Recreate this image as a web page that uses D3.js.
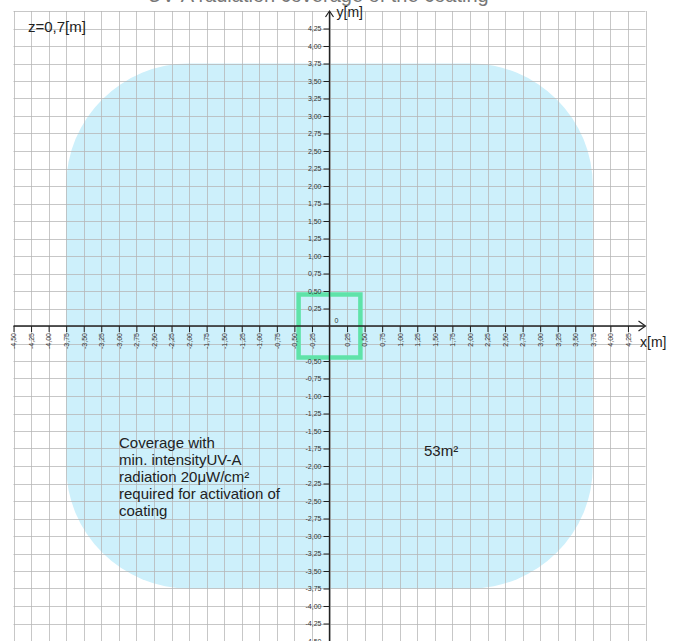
<!DOCTYPE html>
<html>
<head>
<meta charset="utf-8">
<script src="https://cdn.jsdelivr.net/npm/d3@7"></script>
<style>
  body { margin: 0; background: #fff; }
  svg { display: block; font-family: "Liberation Sans", Arial, sans-serif; }
</style>
</head>
<body>
<svg id="chart"></svg>
<script>
const width = 676;
const height = 641;

// datos
const titleText = "UV-A radiation coverage of the coating";
const heightLabel = "z=0,7[m]";
const areaLabel = "53m\u00b2";
const noteLines = ["Coverage with", "min. intensityUV-A", "radiation 20\u03bcW/cm\u00b2", "required for activation of", "coating"];
const coverage = { x0: -3.75, x1: 3.75, y0: -3.75, y1: 3.75, r: 1.75 };
const lampHalf = 0.44;
const gridValues = [-4.5, -4.25, -4, -3.75, -3.5, -3.25, -3, -2.75, -2.5, -2.25, -2, -1.75, -1.5, -1.25, -1, -0.75, -0.5, -0.25, 0,
  0.25, 0.5, 0.75, 1, 1.25, 1.5, 1.75, 2, 2.25, 2.5, 2.75, 3, 3.25, 3.5, 3.75, 4, 4.25, 4.5];
const xTickValues = [-4.5, -4.25, -4, -3.75, -3.5, -3.25, -3, -2.75, -2.5, -2.25, -2, -1.75, -1.5, -1.25, -1, -0.75, -0.5, -0.25,
  0.25, 0.5, 0.75, 1, 1.25, 1.5, 1.75, 2, 2.25, 2.5, 2.75, 3, 3.25, 3.5, 3.75, 4, 4.25];
const yTickValues = [4.25, 4, 3.75, 3.5, 3.25, 3, 2.75, 2.5, 2.25, 2, 1.75, 1.5, 1.25, 1, 0.75, 0.5, 0.25,
  -0.5, -0.75, -1, -1.25, -1.5, -1.75, -2, -2.25, -2.5, -2.75, -3, -3.25, -3.5, -3.75, -4, -4.25, -4.5];

const svg = d3.select("#chart").attr("width", width).attr("height", height);

const x = d3.scaleLinear().domain([-4.5, 4.5]).range([13.5, 645.5]);
const y = d3.scaleLinear().domain([4.5, -4.5]).range([11, 641]);

const fmt = d => d3.format(".2f")(d).replace(".", ",").replace("\u2212", "-");

// zona de cobertura
svg.append("rect")
  .attr("x", x(coverage.x0))
  .attr("y", y(coverage.y1))
  .attr("width", x(coverage.x1) - x(coverage.x0))
  .attr("height", y(coverage.y0) - y(coverage.y1))
  .attr("rx", x(coverage.r) - x(0))
  .attr("ry", y(0) - y(coverage.r))
  .attr("fill", "#cdf0fb");

// rejilla
const grid = svg.append("g").attr("stroke", "#b4b4b4").attr("stroke-opacity", 0.75).attr("stroke-width", 1);
grid.selectAll("line.v").data(gridValues).join("line")
  .attr("class", "v")
  .attr("x1", d => Math.round(x(d)) + 0.5).attr("x2", d => Math.round(x(d)) + 0.5)
  .attr("y1", y(4.5)).attr("y2", y(-4.5));
grid.selectAll("line.h").data(gridValues).join("line")
  .attr("class", "h")
  .attr("y1", d => Math.round(y(d)) + 0.5).attr("y2", d => Math.round(y(d)) + 0.5)
  .attr("x1", x(-4.5)).attr("x2", x(4.5));

// titulo (cortado arriba)
svg.append("text")
  .attr("x", 318).attr("y", 2)
  .attr("text-anchor", "middle")
  .attr("font-size", 20)
  .attr("fill", "#777")
  .text(titleText);

// lampara
svg.append("rect")
  .attr("x", x(-lampHalf)).attr("y", y(lampHalf + 0.01))
  .attr("width", x(lampHalf) - x(-lampHalf))
  .attr("height", y(-lampHalf - 0.01) - y(lampHalf + 0.01))
  .attr("fill", "none")
  .attr("stroke", "#5fe3a9")
  .attr("stroke-width", 4.5);

// eje x
const xAxis = d3.axisBottom(x).tickValues(xTickValues).tickSize(6).tickSizeOuter(0).tickFormat(fmt);
const gx = svg.append("g").attr("transform", `translate(0,${y(0)})`).call(xAxis);
gx.select(".domain").remove();
gx.selectAll(".tick line").attr("stroke", "#222");
gx.selectAll(".tick text")
  .attr("transform", "rotate(-90)")
  .attr("x", -7).attr("y", 0).attr("dy", "0.33em")
  .attr("text-anchor", "end")
  .attr("font-size", 7)
  .attr("font-family", "Liberation Sans, Arial, sans-serif")
  .attr("fill", "#333");

// eje y
const yAxis = d3.axisLeft(y).tickValues(yTickValues).tickSize(6).tickSizeOuter(0).tickFormat(fmt);
const gy = svg.append("g").attr("transform", `translate(${x(0)},0)`).call(yAxis);
gy.select(".domain").remove();
gy.selectAll(".tick line").attr("stroke", "#222");
gy.selectAll(".tick text")
  .attr("x", -8)
  .attr("font-size", 7)
  .attr("font-family", "Liberation Sans, Arial, sans-serif")
  .attr("fill", "#333");

// lineas de ejes y flechas
const axes = svg.append("g").attr("stroke", "#222").attr("stroke-width", 1.4).attr("fill", "none");
axes.append("line").attr("x1", x(-4.5)).attr("x2", x(4.5) - 1).attr("y1", y(0)).attr("y2", y(0));
axes.append("line").attr("x1", x(0)).attr("x2", x(0)).attr("y1", y(4.5) + 1).attr("y2", y(-4.5));
axes.append("path").attr("stroke-width", 1.2)
  .attr("d", `M${x(4.5) - 7},${y(0) - 5}L${x(4.5)},${y(0)}L${x(4.5) - 7},${y(0) + 5}`);
axes.append("path").attr("stroke-width", 1.2)
  .attr("d", `M${x(0) - 4},${y(4.5) + 6}L${x(0)},${y(4.5)}L${x(0) + 4},${y(4.5) + 6}`);

svg.append("text").attr("x", 640).attr("y", y(0) + 21)
  .attr("font-size", 14).attr("fill", "#222").text("x[m]");
svg.append("text").attr("x", x(0) + 7).attr("y", y(4.5) + 6)
  .attr("font-size", 14).attr("fill", "#222").text("y[m]");
svg.append("text").attr("x", x(0) + 5).attr("y", y(0) - 3)
  .attr("font-size", 7).attr("fill", "#333").text("0");

// textos
svg.append("text").attr("x", 28).attr("y", 32)
  .attr("font-size", 15).attr("fill", "#222").text(heightLabel);
svg.append("text").attr("x", 424).attr("y", 456)
  .attr("font-size", 15).attr("fill", "#222").text(areaLabel);
svg.append("text").attr("x", 119).attr("y", 448)
  .attr("font-size", 15).attr("fill", "#222")
  .selectAll("tspan").data(noteLines).join("tspan")
  .attr("x", 119).attr("dy", (d, i) => i ? 17 : 0)
  .text(d => d);
</script>
</body>
</html>
